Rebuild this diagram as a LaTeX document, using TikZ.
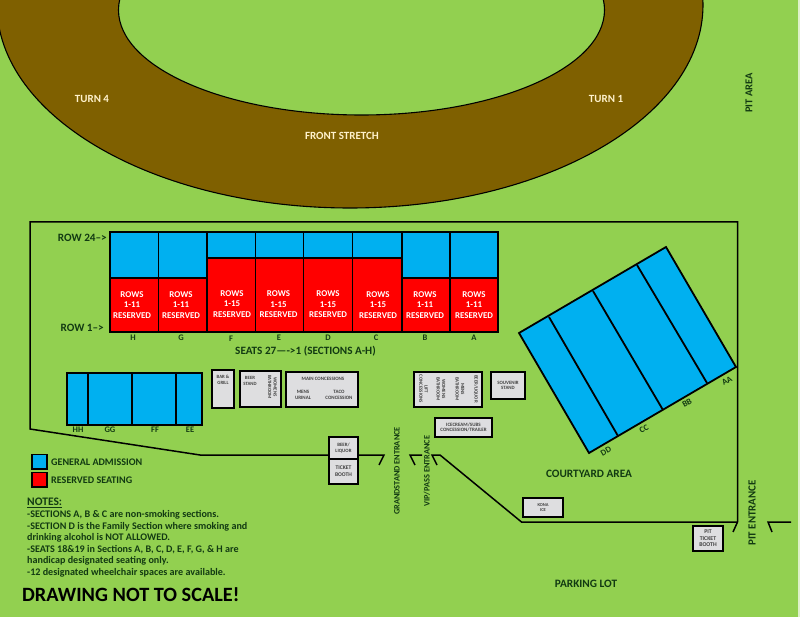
\documentclass[tikz,border=0pt]{standalone}
\usepackage{fontspec}
\setmainfont{Carlito}
\usetikzlibrary{calc}
\definecolor{grass}{HTML}{92D050}
\definecolor{dirt}{HTML}{7F6000}
\definecolor{gablue}{HTML}{00B0F0}
\definecolor{resred}{HTML}{FF0000}
\definecolor{boothgray}{HTML}{DEDEE0}
\definecolor{labelgreen}{HTML}{123A12}
\definecolor{cream}{HTML}{FFF2CC}
\newcommand{\fs}[1]{\fontsize{#1}{#1}\selectfont}
\newcommand{\bx}[7][]{%
  \pgfmathsetmacro{\cxx}{(#3+#5)/2}\pgfmathsetmacro{\cyy}{(#4+#6)/2}%
  \pgfmathsetmacro{\www}{#5-#3}\pgfmathsetmacro{\hhh}{#6-#4}%
  \node[#1,minimum width=\www pt,minimum height=\hhh pt] (#2) at (\cxx,\cyy) {#7};}
\newcommand{\rowtxt}[4]{\node[restxt] (#1) at (#2,#3) {ROWS\\[1.5pt]#4\\[1.5pt]RESERVED};}
\tikzset{
  x=1pt,y=-1pt,
  seat/.style={draw=black,line width=1.9pt,inner sep=0pt,outer sep=0pt,align=center,anchor=center},
  gen/.style={seat,fill=gablue},
  res/.style={seat,fill=resred},
  restxt/.style={text=white,font=\bfseries\fs{8.9},inner sep=0pt,align=center},
  booth/.style={seat,fill=boothgray,line width=1.7pt,text=black!75,font=\bfseries\fs{4.9}},
  wall/.style={draw=black,line width=1.5pt,line join=miter},
  lab/.style={text=labelgreen,font=\bfseries\fs{10.5},inner sep=0pt},
  smalllab/.style={text=labelgreen,font=\bfseries\fs{8.5},inner sep=0pt},
  turn/.style={text=cream,font=\bfseries\fs{11},inner sep=0pt},
  tiny/.style={text=black!75,font=\bfseries\fs{4.8},inner sep=0pt,align=center},
  note/.style={text=labelgreen,font=\bfseries\fs{10.1},inner sep=0pt,anchor=west},
}
\begin{document}
\begin{tikzpicture}
\useasboundingbox (0,0) rectangle (800,617);
\fill[grass] (0,0) rectangle (800,617);
\fill[white!70!grass] (798,0) rectangle (800,617);
% track
\begin{scope}
\clip (0,0) rectangle (800,617);
\draw[black,line width=1.1pt,fill=dirt] (350,5) ellipse [x radius=353,y radius=203];
\draw[black,line width=1.1pt,fill=grass] (361.5,10) ellipse [x radius=243,y radius=105];
\end{scope}
\node[turn] (turn4) at (92,99) {TURN 4};
\node[turn] (turn1) at (606,99) {TURN 1};
\node[turn] (front) at (342,136) {FRONT STRETCH};
\node[lab,rotate=90] (pitarea) at (749,93) {PIT AREA};
% walls
\coordinate (w1) at (384,455); \coordinate (w1t) at (379,465);
\coordinate (w2) at (30,429); \coordinate (w3) at (30,222);
\coordinate (w4) at (737.5,222); \coordinate (w5) at (737.5,522);
\coordinate (w5t) at (733,532); \coordinate (w6) at (521.5,522);
\coordinate (w7) at (440,455); \coordinate (w7b) at (432,455); \coordinate (w7t) at (437,465);
\coordinate (w8) at (200,455);
\coordinate (g1) at (422,455); \coordinate (g2) at (410,455); \coordinate (g3) at (415,465);
\coordinate (p1) at (791,522); \coordinate (p2) at (768,522); \coordinate (p3) at (772,532);
\draw[wall] (w1t) -- (w1) -- (w8) -- (w2) -- (w3) -- (w4) -- (w5) -- (w5t);
\draw[wall] (w5) -- (w6) -- (w7) -- (w7b) -- (w7t);
\draw[wall] (g1) -- (g2) -- (g3);
\draw[wall] (p1) -- (p2) -- (p3);
% main stand: blue
\bx[gen]{bh}{110}{232}{158.5}{278}{}
\bx[gen]{bg}{158.5}{232}{207}{278}{}
\bx[gen]{bf}{207}{232}{255.5}{258}{}
\bx[gen]{be}{255.5}{232}{303.5}{258}{}
\bx[gen]{bd}{303.5}{232}{352.5}{258}{}
\bx[gen]{bc}{352.5}{232}{402}{258}{}
\bx[gen]{bb}{402}{232}{450}{278}{}
\bx[gen]{ba}{450}{232}{498}{278}{}
% main stand: red
\bx[res]{rh}{110}{278}{158.5}{332}{}
\bx[res]{rg}{158.5}{278}{207}{332}{}
\bx[res]{rf}{207}{258}{255.5}{332}{}
\bx[res]{re}{255.5}{258}{303.5}{332}{}
\bx[res]{rd}{303.5}{258}{352.5}{332}{}
\bx[res]{rc}{352.5}{258}{402}{332}{}
\bx[res]{rb}{402}{278}{450}{332}{}
\bx[res]{ra}{450}{278}{498}{332}{}
\rowtxt{th}{132}{305}{1-11}
\rowtxt{tg}{181}{305}{1-11}
\rowtxt{tf}{232}{304}{1-15}
\rowtxt{te}{278.5}{304.5}{1-15}
\rowtxt{td}{328}{304.5}{1-15}
\rowtxt{tc}{378}{305}{1-15}
\rowtxt{tb}{425}{305}{1-11}
\rowtxt{ta}{474}{305}{1-11}
\node[smalllab] (lh) at (133,338) {H};
\node[smalllab] (lg) at (181,338) {G};
\node[smalllab] (lf) at (231,339) {F};
\node[smalllab] (le) at (279,338) {E};
\node[smalllab] (ld) at (328,338) {D};
\node[smalllab] (lc) at (376,338) {C};
\node[smalllab] (lb) at (425,338) {B};
\node[smalllab] (la) at (474,338) {A};
\node[lab,anchor=east,font=\bfseries\fs{11.2}] (row24) at (107,237.5) {ROW 24-->};
\node[lab,anchor=east,font=\bfseries\fs{11.2}] (row1) at (104,328) {ROW 1-->};
\node[lab,anchor=west,font=\bfseries\fs{11.2}] (seats) at (235,351) {SEATS 27—->1 (SECTIONS A-H)};
% lower left stand
\bx[gen]{hh}{67}{373}{88}{425}{}
\bx[gen]{gg}{88}{373}{132}{425}{}
\bx[gen]{ff}{132}{373}{176}{425}{}
\bx[gen]{ee}{176}{373}{202}{425}{}
\node[smalllab] (lhh) at (78,430) {HH};
\node[smalllab] (lgg) at (110,430) {GG};
\node[smalllab] (lff) at (155,430) {FF};
\node[smalllab] (lee) at (190,430) {EE};
% angled stand
\coordinate (a1) at (519,333); \coordinate (a2) at (666,247);
\coordinate (a3) at (736,367); \coordinate (a4) at (589,453);
\coordinate (d1) at (549,317); \coordinate (d1b) at (618,436);
\coordinate (d2) at (593,291); \coordinate (d2b) at (663,410);
\coordinate (d3) at (637,265); \coordinate (d3b) at (707,383);
\draw[wall,line width=1.8pt,fill=gablue] (a1) -- (a2) -- (a3) -- (a4) -- cycle;
\draw[wall,line width=1.8pt] (d1) -- (d1b);
\draw[wall,line width=1.8pt] (d2) -- (d2b);
\draw[wall,line width=1.8pt] (d3) -- (d3b);
\node[smalllab,rotate=30] (ldd) at (606,451) {DD};
\node[smalllab,rotate=30] (lcc) at (644,429) {CC};
\node[smalllab,rotate=30] (lbb) at (687,403) {BB};
\node[smalllab,rotate=30] (laa) at (727,381) {AA};
% booths
\bx[booth]{bar}{212}{370}{234}{408}{}
\node[tiny] (bartxt) at (223,380) {BAR \&\\[0.6pt]GRILL};
\bx[booth]{beer}{240}{371}{281}{407}{}
\node[tiny] (beertxt) at (250,381) {BEER\\[0.6pt]STAND};
\node[tiny,rotate=-90] (wb) at (272.5,387) {WOMENS\\[0.6pt]BATHROOM};
\bx[booth]{main}{286}{372}{358}{407}{}
\node[tiny,font=\bfseries\fs{5}] (maintxt) at (323,379) {MAIN CONCESSIONS};
\node[tiny,font=\bfseries\fs{5}] (menstxt) at (303,395) {MENS\\[0.6pt]URINAL};
\node[tiny,font=\bfseries\fs{5}] (tacotxt) at (339,395) {TACO\\[0.6pt]CONCESSION};
\bx[booth]{block}{414}{372}{482}{407}{}
\node[tiny,rotate=-90] (col1) at (423.5,389) {LIFT\\[0.6pt]CONCESSIONS};
\node[tiny,rotate=-90] (col2) at (441,389) {WOMENS\\[0.6pt]BATHROOM};
\node[tiny,rotate=-90] (col3) at (460,389) {MENS\\[0.6pt]BATHROOM};
\node[tiny,rotate=-90] (col4) at (476,389) {BEER/LIQUOR};
\bx[booth]{souv}{491}{372}{525}{399}{SOUVENIR\\[0.6pt]STAND}
\bx[booth,font=\bfseries\fs{5}]{ice}{435}{418}{492}{437}{ICECREAM/SUBS\\[0.6pt]CONCESSION/TRAILER}
\bx[booth]{liquor}{329}{437}{358}{459}{BEER/\\[0.8pt]LIQUOR}
\bx[booth,font=\bfseries\fs{5.6}]{ticket}{329}{459}{358}{484}{TICKET\\[1.5pt]BOOTH}
\bx[booth,font=\bfseries\fs{4.5}]{kona}{523}{498}{563}{517}{KONA\\[0.8pt]ICE}
\bx[booth,font=\bfseries\fs{5.8}]{pit}{693}{526}{723}{551}{PIT\\[0.6pt]TICKET\\[0.6pt]BOOTH}
% entrances and areas
\node[lab,rotate=90,font=\bfseries\fs{8.3}] (grand) at (397,471) {GRANDSTAND ENTRANCE};
\node[lab,rotate=90,font=\bfseries\fs{8.3}] (vip) at (427,471) {VIP/PASS ENTRANCE};
\node[lab,rotate=90,font=\bfseries\fs{10.9}] (pitent) at (752,513) {PIT ENTRANCE};
\node[lab,font=\bfseries\fs{11.3}] (court) at (589,474) {COURTYARD AREA};
\node[lab,font=\bfseries\fs{11.3}] (park) at (586,584) {PARKING LOT};
% legend
\bx[gen]{keyblue}{32}{454.5}{47}{469}{}
\bx[res]{keyred}{32}{472.5}{47}{487}{}
\node[note] (keyga) at (51,462) {GENERAL ADMISSION};
\node[note] (keyrs) at (51,480) {RESERVED SEATING};
% notes
\node[note,font=\bfseries\fs{11.5}] (notes) at (27,502) {NOTES:};
\draw[labelgreen,line width=0.7pt] ($(notes.south west)+(0,1)$) -- ($(notes.south east)+(0,1)$);
\node[note] (n1) at (27,515) {-SECTIONS A, B \& C are non-smoking sections.};
\node[note] (n2) at (27,526.5) {-SECTION D is the Family Section where smoking and};
\node[note] (n3) at (27,538) {drinking alcohol is NOT ALLOWED.};
\node[note] (n4) at (27,550) {-SEATS 18\&19 in Sections A, B, C, D, E, F, G, \& H are};
\node[note] (n5) at (27,561) {handicap designated seating only.};
\node[note] (n6) at (27,573) {-12 designated wheelchair spaces are available.};
\node[note,text=black,font=\bfseries\fs{20.3}] (scale) at (22,595) {DRAWING NOT TO SCALE!};
\end{tikzpicture}
\end{document}
